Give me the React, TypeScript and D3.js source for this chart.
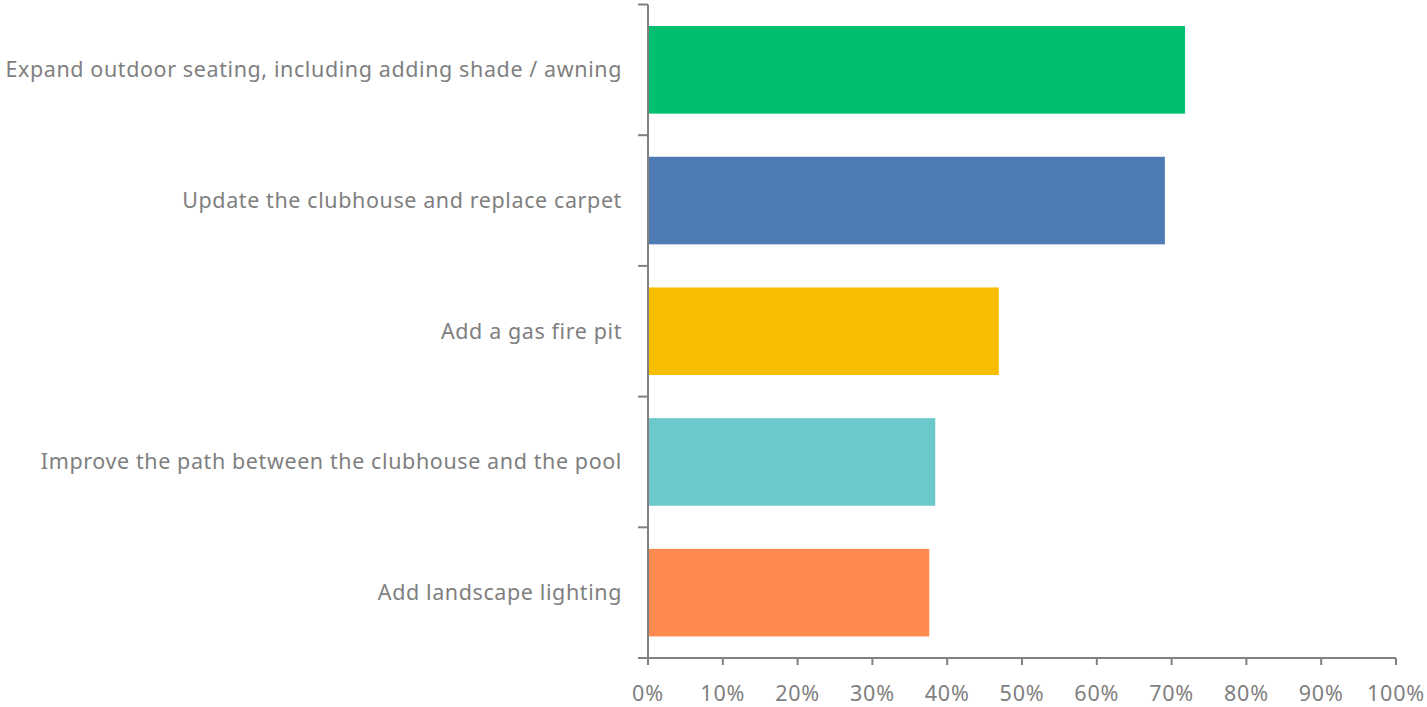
import React from "react";
import * as d3 from "d3";

const categories = [
  "Expand outdoor seating, including adding shade / awning",
  "Update the clubhouse and replace carpet",
  "Add a gas fire pit",
  "Improve the path between the clubhouse and the pool",
  "Add landscape lighting",
];
const values = [0.718, 0.691, 0.469, 0.384, 0.376];
const colors = ["#00BF6F", "#4E7BB4", "#F7BD00", "#6BC8CB", "#FF8A4F"];
const xTicks = [0, 0.1, 0.2, 0.3, 0.4, 0.5, 0.6, 0.7, 0.8, 0.9, 1.0];

const W = 1427;
const H = 707;
const left = 648;
const right = 1396;
const top = 4.5;
const bottom = 658;
const axisColor = "#808080";
const textColor = "#7F7F7F";
const font = "'Noto Sans', 'Open Sans', sans-serif";

export default function App() {
  const x = d3.scaleLinear().domain([0, 1]).range([left, right]);
  const y = d3.scaleBand<string>().domain(categories).range([top, bottom]).paddingInner(0.33).paddingOuter(0.165);
  const band = d3.scaleBand<string>().domain(categories).range([top, bottom]);
  const boundaries = [...categories.map((c) => band(c) as number), bottom];

  return (
    <svg width={W} height={H} style={{ position: "absolute", left: 0, top: 0 }}>
      <rect width={W} height={H} fill="#fff" />
      {categories.map((c, i) => (
        <rect key={c} x={x(0)} y={y(c)} width={x(values[i]) - x(0)} height={y.bandwidth()} fill={colors[i]} />
      ))}
      {/* y axis */}
      <line x1={left} x2={left} y1={top} y2={bottom + 7} stroke={axisColor} strokeWidth={2} />
      {boundaries.map((b, i) => (
        <line key={i} x1={left - 10} x2={left} y1={b} y2={b} stroke={axisColor} strokeWidth={2} />
      ))}
      {/* x axis */}
      <line x1={left - 10} x2={right} y1={bottom} y2={bottom} stroke={axisColor} strokeWidth={2} />
      {xTicks.map((t) => (
        <g key={t}>
          <line x1={x(t)} x2={x(t)} y1={bottom} y2={bottom + 7} stroke={axisColor} strokeWidth={2} />
          <text x={x(t)} y={701} textAnchor="middle" fontFamily={font} fontSize={21.5} letterSpacing={0.8} fill={textColor}>
            {d3.format(".0%")(t)}
          </text>
        </g>
      ))}
      {categories.map((c) => (
        <text
          key={c}
          x={622}
          y={(y(c) as number) + y.bandwidth() / 2}
          dy="0.35em"
          textAnchor="end"
          fontFamily={font}
          fontSize={21.5}
          letterSpacing={0.6}
          fill={textColor}
        >
          {c}
        </text>
      ))}
    </svg>
  );
}
